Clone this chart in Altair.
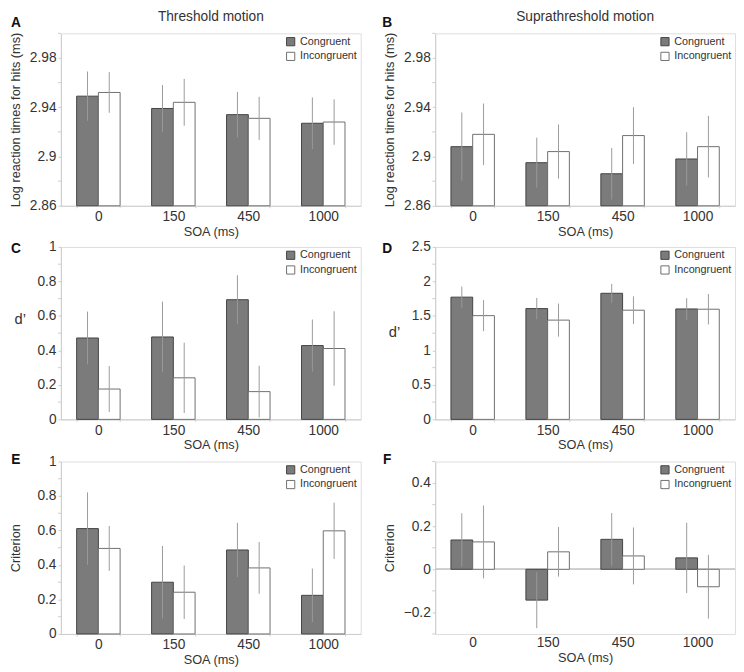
import altair as alt
import pandas as pd

SOA = ["0", "150", "450", "1000"]
CONDS = ["Congruent", "Incongruent"]

# Panel A: Threshold motion, log RT for hits
A_cong = [2.949, 2.939, 2.934, 2.927]
A_cong_err = [0.020, 0.019, 0.0185, 0.021]
A_inc = [2.952, 2.944, 2.931, 2.928]
A_inc_err = [0.0165, 0.019, 0.0175, 0.0185]
# Panel B: Suprathreshold motion, log RT for hits
B_cong = [2.908, 2.895, 2.886, 2.898]
B_cong_err = [0.0277, 0.0203, 0.021, 0.0217]
B_inc = [2.918, 2.904, 2.917, 2.908]
B_inc_err = [0.025, 0.022, 0.023, 0.025]
# Panel C: Threshold d'
C_cong = [0.472, 0.478, 0.694, 0.428]
C_cong_err = [0.153, 0.205, 0.142, 0.151]
C_inc = [0.176, 0.241, 0.161, 0.411]
C_inc_err = [0.133, 0.204, 0.150, 0.216]
# Panel D: Suprathreshold d'
D_cong = [1.772, 1.606, 1.828, 1.601]
D_cong_err = [0.153, 0.155, 0.137, 0.157]
D_inc = [1.504, 1.439, 1.583, 1.597]
D_inc_err = [0.225, 0.240, 0.200, 0.220]
# Panel E: Threshold criterion
E_cong = [0.611, 0.300, 0.487, 0.224]
E_cong_err = [0.210, 0.210, 0.157, 0.155]
E_inc = [0.496, 0.242, 0.383, 0.598]
E_inc_err = [0.130, 0.155, 0.150, 0.163]
# Panel F: Suprathreshold criterion
F_cong = [0.136, -0.143, 0.139, 0.053]
F_cong_err = [0.124, 0.130, 0.122, 0.163]
F_inc = [0.127, 0.081, 0.062, -0.081]
F_inc_err = [0.169, 0.115, 0.132, 0.148]

# labelled ticks and unlabelled (minor) ticks
RT_LABELS = [2.86, 2.9, 2.94, 2.98]
RT_MINOR = [2.88, 2.92, 2.96, 3.0]
D1_LABELS = [0, 0.2, 0.4, 0.6, 0.8, 1]
D1_MINOR = [0.1, 0.3, 0.5, 0.7, 0.9]
D2_LABELS = [0, 0.5, 1, 1.5, 2, 2.5]
D2_MINOR = [0.25, 0.75, 1.25, 1.75, 2.25]
F_LABELS = [-0.2, 0, 0.2, 0.4]
F_MINOR = [-0.3, -0.1, 0.1, 0.3, 0.5]

FONT = "Liberation Sans"
TXT = "#333333"
AX = "#cccccc"
W, H = 306, 176


def make_df(cong, cerr, inc, ierr, base_val):
    rows = []
    for i, s in enumerate(SOA):
        rows.append({"soa": s, "cond": "Congruent", "val": cong[i], "base": base_val,
                     "lo": cong[i] - cerr[i], "hi": cong[i] + cerr[i]})
        rows.append({"soa": s, "cond": "Incongruent", "val": inc[i], "base": base_val,
                     "lo": inc[i] - ierr[i], "hi": inc[i] + ierr[i]})
    return pd.DataFrame(rows)


def panel(letter, cong, cerr, inc, ierr, domain, base_val, labels, minor, ytitle,
          title=None, flat_title=False, title_y=0, letter_x=-46, letter_y=-10,
          zero_line=False):
    df = make_df(cong, cerr, inc, ierr, base_val)
    yaxis_kw = dict(
        values=labels, labelExpr="replace('' + datum.value, '-', '\u2212')",
        title=ytitle, grid=False, domainColor=AX, tickColor=AX, tickSize=3,
        labelFontSize=14, labelColor=TXT, labelFont=FONT, labelPadding=2,
        titleFontSize=13, titleFont=FONT, titleColor=TXT, titleFontWeight="normal",
    )
    if flat_title:
        yaxis_kw.update(titleAngle=0, titleAlign="center", titleBaseline="middle",
                        titleX=-42, titleY=title_y, titleFontSize=15)
    else:
        yaxis_kw.update(titleBaseline="middle", titleX=-46.5)
    yaxis = alt.Axis(**yaxis_kw)
    xscale = alt.Scale(paddingInner=0.42, paddingOuter=0.21)
    xaxis = alt.Axis(title="SOA (ms)", labelAngle=0, tickBand="extent", tickSize=2,
                     domain=not zero_line, ticks=not zero_line,
                     domainColor=AX, tickColor=AX, labelFontSize=14, labelColor=TXT,
                     labelFont=FONT, labelPadding=2, titleFontSize=13, titleFont=FONT,
                     titleColor=TXT, titleFontWeight="normal", titlePadding=2)
    x = alt.X("soa:N", sort=SOA, scale=xscale, axis=xaxis)
    xo = alt.XOffset("cond:N", sort=CONDS, scale=alt.Scale(paddingInner=0, paddingOuter=0))
    yscale = alt.Scale(domain=domain, zero=False, nice=False)
    legend = alt.Legend(title=None, orient="top-right", offset=3, padding=0,
                        symbolType="square", symbolSize=70, symbolStrokeWidth=1,
                        labelFontSize=11, labelColor=TXT, labelFont=FONT,
                        rowPadding=2, labelOffset=4)
    base = alt.Chart(df)
    bars = base.mark_bar(strokeWidth=1).encode(
        x=x, xOffset=xo,
        y=alt.Y("val:Q", scale=yscale, axis=yaxis),
        y2="base:Q",
        fill=alt.Fill("cond:N", sort=CONDS,
                      scale=alt.Scale(domain=CONDS, range=["#7b7b7b", "#ffffff"]),
                      legend=legend),
        stroke=alt.Stroke("cond:N", sort=CONDS,
                          scale=alt.Scale(domain=CONDS, range=["#424242", "#6e6e6e"]),
                          legend=legend),
    )
    err = base.mark_rule(color="#9a9a9a", strokeWidth=1).encode(
        x=alt.X("soa:N", sort=SOA), xOffset=xo,
        y=alt.Y("lo:Q", axis=yaxis), y2="hi:Q",
    )
    mdf = pd.DataFrame({"m": minor})
    mticks = alt.Chart(mdf).mark_rule(color=AX, strokeWidth=1).encode(
        y=alt.Y("m:Q", axis=yaxis), x=alt.value(-3), x2=alt.value(0))
    ldf = pd.DataFrame({"letter": [letter]})
    let = alt.Chart(ldf).mark_text(fontSize=14, fontWeight="bold", font=FONT,
                                   color="#111111", align="center",
                                   baseline="middle").encode(
        text="letter:N", x=alt.value(letter_x), y=alt.value(letter_y))
    layers = [bars]
    if zero_line:
        layers = [base.mark_rule(color=AX, strokeWidth=1).encode(
            y=alt.Y("base:Q", scale=yscale, axis=yaxis)), bars]
    layers += [err, mticks, let]
    if title:
        tdf = pd.DataFrame({"t": [title]})
        layers.append(alt.Chart(tdf).mark_text(fontSize=14, font=FONT, color=TXT,
                                               align="center", baseline="middle").encode(
            text="t:N", x=alt.value(W / 2), y=alt.value(-17)))
    ch = alt.layer(*layers).properties(width=W, height=H)
    return ch


RT_T = "Log reaction times for hits (ms)"
pA = panel("A", A_cong, A_cong_err, A_inc, A_inc_err, [2.86, 3.0], 2.86, RT_LABELS, RT_MINOR,
           RT_T, title="Threshold motion", letter_x=-46, letter_y=-10)
pB = panel("B", B_cong, B_cong_err, B_inc, B_inc_err, [2.86, 3.0], 2.86, RT_LABELS, RT_MINOR,
           RT_T, title="Suprathreshold motion", letter_x=-49, letter_y=-10)
pC = panel("C", C_cong, C_cong_err, C_inc, C_inc_err, [0, 1], 0, D1_LABELS, D1_MINOR,
           "d\u2019", flat_title=True, title_y=73, letter_x=-46, letter_y=2)
pD = panel("D", D_cong, D_cong_err, D_inc, D_inc_err, [0, 2.5], 0, D2_LABELS, D2_MINOR,
           "d\u2019", flat_title=True, title_y=86, letter_x=-49, letter_y=2)
pE = panel("E", E_cong, E_cong_err, E_inc, E_inc_err, [0, 1], 0, D1_LABELS, D1_MINOR,
           "Criterion", letter_x=-46, letter_y=-1)
pF = panel("F", F_cong, F_cong_err, F_inc, F_inc_err, [-0.3, 0.5], 0, F_LABELS, F_MINOR,
           "Criterion", letter_x=-49, letter_y=-1, zero_line=True)

chart = alt.concat(pA, pB, pC, pD, pE, pF, columns=2,
                   spacing={"row": 0, "column": 20}).resolve_scale(
    x="independent", y="independent", xOffset="independent",
    fill="independent", stroke="independent").resolve_axis(
    x="independent", y="independent").resolve_legend(
    fill="independent", stroke="independent").properties(
    padding={"left": 0, "top": -6, "right": 0, "bottom": 0}).configure_view(
    strokeWidth=0).configure(background="white")

chart.save("out.html", embed_options={"renderer": "svg", "actions": False})
